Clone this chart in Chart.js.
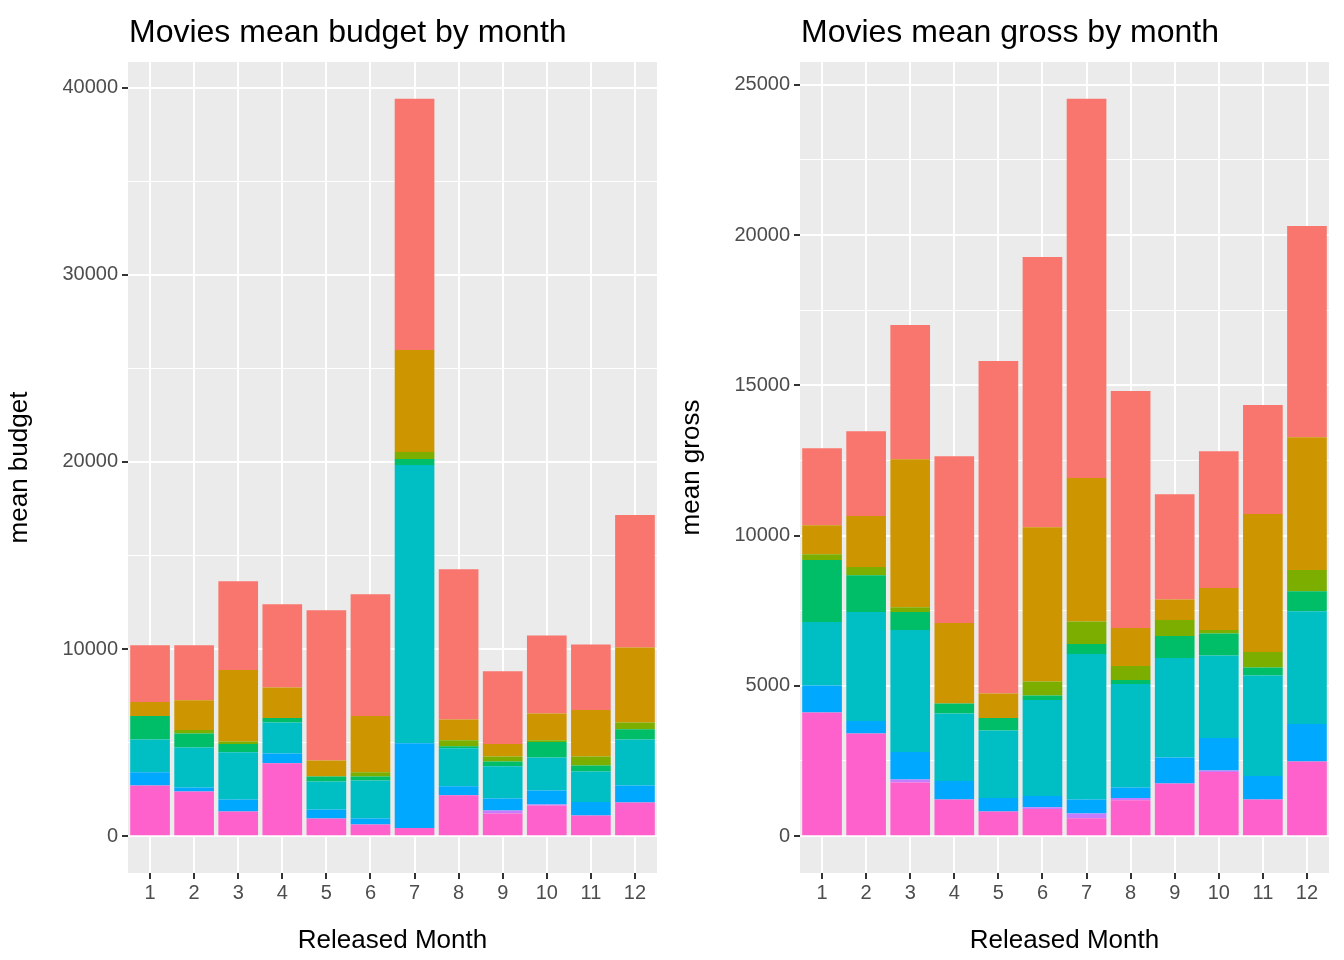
<!DOCTYPE html>
<html>
<head>
<meta charset="utf-8">
<script src="https://cdn.jsdelivr.net/npm/chart.js@4"></script>
<style>
  body { margin: 0; background: #fff; }
  .panel { position: absolute; top: 0; width: 672px; height: 960px; }
</style>
</head>
<body>
<div class="panel" style="left:0"><canvas id="budget" width="672" height="960"></canvas></div>
<div class="panel" style="left:672px"><canvas id="gross" width="672" height="960"></canvas></div>
<script>
const months = ['1', '2', '3', '4', '5', '6', '7', '8', '9', '10', '11', '12'];
const groupNames = ['g8', 'g7', 'g6', 'g5', 'g4', 'g3', 'g2', 'g1'];
const groupColors = ['#FF61CC', '#C77CFF', '#00A9FF', '#00BFC4', '#00BE67', '#7CAE00', '#CD9600', '#F8766D'];

// mean budget per month, one array per group (bottom to top)
const budgetPink   = [2710, 2390, 1320, 3890, 945, 620, 430, 2180, 1210, 1640, 1100, 1800];
const budgetPurple = [0, 0, 0, 0, 0, 0, 0, 0, 160, 50, 0, 0];
const budgetBlue   = [710, 210, 640, 530, 485, 325, 4540, 490, 640, 750, 720, 910];
const budgetCyan   = [1750, 2140, 2520, 1660, 1490, 2035, 14870, 2030, 1720, 1770, 1640, 2460];
const budgetGreen  = [1250, 750, 440, 230, 270, 210, 320, 110, 260, 820, 320, 540];
const budgetOlive  = [0, 180, 140, 0, 0, 220, 370, 320, 270, 90, 480, 370];
const budgetGold   = [750, 1600, 3820, 1640, 860, 3010, 5460, 1110, 660, 1440, 2480, 4010];
const budgetSalmon = [3030, 2930, 4740, 4440, 8020, 6510, 13420, 8020, 3890, 4170, 3510, 7080];

// mean gross per month
const grossPink   = [4117, 3418, 1786, 1221, 821, 899, 599, 1198, 1753, 2130, 1221, 2486];
const grossPurple = [0, 0, 100, 0, 0, 66, 156, 67, 0, 56, 0, 0];
const grossBlue   = [898, 410, 910, 610, 444, 367, 466, 355, 866, 1076, 776, 1242];
const grossCyan   = [2109, 3629, 4061, 2252, 2252, 3195, 4837, 3440, 3306, 2752, 3351, 3751];
const grossGreen  = [2063, 1220, 600, 333, 411, 156, 333, 133, 733, 732, 267, 666];
const grossOlive  = [189, 278, 155, 0, 0, 466, 755, 466, 532, 111, 510, 710];
const grossGold   = [966, 1697, 4926, 2674, 821, 5126, 4771, 1265, 688, 1398, 4594, 4416];
const grossSalmon = [2563, 2818, 4472, 5548, 11063, 8999, 12617, 7890, 3495, 4550, 3629, 7035];

const budgetSeries = [budgetPink, budgetPurple, budgetBlue, budgetCyan, budgetGreen, budgetOlive, budgetGold, budgetSalmon];
const grossSeries = [grossPink, grossPurple, grossBlue, grossCyan, grossGreen, grossOlive, grossGold, grossSalmon];

const FONT = 'Liberation Sans, Arial, sans-serif';

const ggBackground = {
    id: 'ggBackground',
    beforeDraw(chart) {
        const a = chart.chartArea, ctx = chart.ctx;
        ctx.save();
        ctx.fillStyle = '#EBEBEB';
        ctx.fillRect(a.left, a.top, a.right - a.left, a.bottom - a.top);
        ctx.restore();
    },
    afterDraw(chart, args, opts) {
        const ctx = chart.ctx;
        ctx.save();
        ctx.fillStyle = '#000';
        ctx.font = '32px ' + FONT;
        ctx.textBaseline = 'alphabetic';
        ctx.fillText(opts.text, chart.chartArea.left + 1, 42);
        ctx.restore();
    }
};

function makeChart(id, series, title, yTitle, min, max, step, major) {
    new Chart(document.getElementById(id), {
        type: 'bar',
        data: {
            labels: months,
            datasets: series.map((d, i) => ({
                label: groupNames[i],
                data: d,
                backgroundColor: groupColors[i],
                borderWidth: 0,
                categoryPercentage: 0.9,
                barPercentage: 1
            }))
        },
        plugins: [ggBackground],
        options: {
            responsive: false,
            animation: false,
            layout: { padding: { top: 62, right: 15, left: 0, bottom: 0 } },
            plugins: {
                legend: { display: false },
                tooltip: { enabled: false },
                ggBackground: { text: title }
            },
            scales: {
                x: {
                    stacked: true,
                    border: { display: false },
                    grid: { offset: false, color: '#FFFFFF', lineWidth: 2, tickColor: '#333333', tickLength: 6 },
                    ticks: { color: '#4D4D4D', font: { family: FONT, size: 20 }, padding: 2, maxRotation: 0 },
                    title: { display: true, text: 'Released Month', color: '#000', font: { family: FONT, size: 26 }, padding: { top: 0 } },
                    afterFit: s => { s.height = 87; }
                },
                y: {
                    stacked: true,
                    min: min,
                    max: max,
                    border: { display: false },
                    afterBuildTicks: s => {
                        const t = [];
                        for (let v = Math.ceil(min / step) * step; v <= max; v += step) t.push({ value: v });
                        s.ticks = t;
                    },
                    grid: {
                        color: '#FFFFFF',
                        lineWidth: c => (c.tick && c.tick.value % major === 0) ? 2 : 1,
                        tickColor: c => (c.tick && c.tick.value % major === 0) ? '#333333' : 'rgba(0,0,0,0)',
                        tickLength: 6
                    },
                    ticks: {
                        color: '#4D4D4D',
                        font: { family: FONT, size: 20 },
                        padding: 4,
                        callback: v => (v % major === 0 ? String(v) : '')
                    },
                    title: { display: true, text: yTitle, color: '#000', font: { family: FONT, size: 26 }, padding: { bottom: 6 } },
                    afterFit: s => { s.width = 128; }
                }
            }
        }
    });
}

makeChart('budget', budgetSeries, 'Movies mean budget by month', 'mean budget', -1970, 41380, 5000, 10000);
makeChart('gross', grossSeries, 'Movies mean gross by month', 'mean gross', -1227, 25760, 2500, 5000);
</script>
</body>
</html>
